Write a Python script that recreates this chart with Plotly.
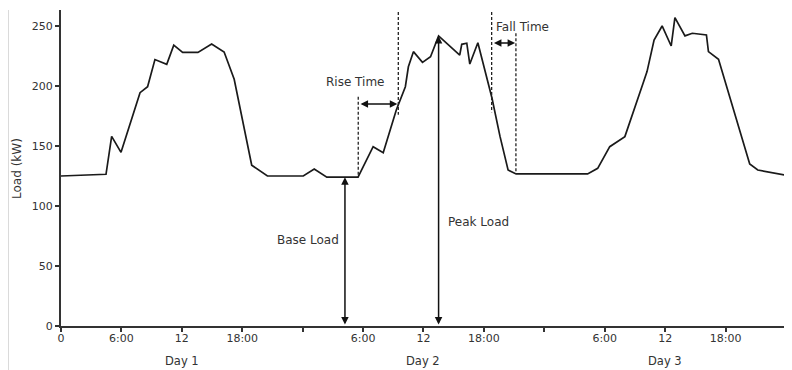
import plotly.graph_objects as go

# ---- data ----
hours = [0, 4.47, 5.03, 5.96, 7.85, 8.6, 9.33, 10.5, 11.2, 12.08, 13.6, 14.96, 16.2, 17.2, 18.94, 20.5,
         24.06, 25.15, 26.4, 29.5, 31.0, 32.0, 33.3, 34.2, 34.5, 35.0, 35.9, 36.7, 37.5, 39.6, 39.8, 40.3,
         40.6, 41.4, 42.8, 43.6, 44.4, 45.2, 52.3, 53.3, 54.5, 56.0, 57.8, 58.2, 58.9, 59.7, 60.6, 60.97,
         61.97, 62.7, 64.1, 64.3, 65.3, 68.4, 69.2, 72.4]
load_kw = [125, 126.4, 158, 144.7, 194.4, 199.4, 222, 218, 234, 228, 228, 235, 228.3, 205.6, 134, 125,
           125, 130.8, 124, 124, 149.4, 144.4, 180, 199.4, 216, 228.6, 219.7, 224.4, 241.7, 225.8, 234.7, 235.6,
           218.3, 236, 190, 158, 130, 126.7, 126.7, 131.4, 149.4, 157.8, 202, 212, 238.3, 250, 233.3, 257,
           241.7, 243.9, 242.5, 228.6, 222.2, 135, 130, 125]

tick_vals = [0, 6, 12, 18, 24, 30, 36, 42, 48, 54, 60, 66]
tick_text = ["0", "6:00", "12", "18:00", "", "6:00", "12", "18:00", "", "6:00", "12", "18:00"]
day_pos = [12, 36, 60]
day_labels = ["Day 1", "Day 2", "Day 3"]
y_ticks = [0, 50, 100, 150, 200, 250]

# annotation geometry (data coordinates)
base_x, base_y = 28.2, 124
peak_x, peak_y = 37.5, 241.7
rise_dash = [([29.52, 29.52], [191, 124]), ([33.5, 33.5], [261.7, 176])]
rise_arrow = (29.6, 33.4, 185)
fall_dash = [([42.77, 42.77], [261.7, 178]), ([45.18, 45.18], [244, 126.7])]
fall_arrow = (42.85, 45.1, 235.8)

FONT = "DejaVu Sans"
TXT = "#333333"

fig = go.Figure()
fig.add_trace(go.Scatter(x=hours, y=load_kw, mode="lines",
                         line=dict(color="#1a1a1a", width=1.7), showlegend=False, hoverinfo="skip"))
for xs, ys in rise_dash + fall_dash:
    fig.add_trace(go.Scatter(x=xs, y=ys, mode="lines",
                             line=dict(color="#222222", width=1.3, dash="3px,2px"),
                             showlegend=False, hoverinfo="skip"))

def darrow(x, y, ax, ay):
    fig.add_annotation(x=x, y=y, ax=ax, ay=ay, xref="x", yref="y", axref="x", ayref="y",
                       showarrow=True, arrowhead=2, startarrowhead=2, arrowside="end+start",
                       arrowsize=1, arrowwidth=1.5, arrowcolor="#111111", text="")

darrow(base_x, base_y, base_x, 0)
darrow(peak_x, peak_y, peak_x, 0)
darrow(rise_arrow[1], rise_arrow[2], rise_arrow[0], rise_arrow[2])
darrow(fall_arrow[1], fall_arrow[2], fall_arrow[0], fall_arrow[2])

def label(x, y, t, xanchor="center"):
    fig.add_annotation(x=x, y=y, xref="x", yref="y", text=t, showarrow=False,
                       xanchor=xanchor, yanchor="middle", font=dict(family=FONT, size=12, color=TXT))

label(24.5, 71.7, "Base Load")
label(38.2, 86.7, "Peak Load", xanchor="left")
label(29.2, 203, "Rise Time")
label(43.0, 249, "Fall Time", xanchor="left")

for p, t in zip(day_pos, day_labels):
    fig.add_annotation(x=p, y=0, xref="x", yref="y", text=t, showarrow=False, yshift=-35,
                       font=dict(family=FONT, size=11.5, color=TXT))

fig.add_annotation(x=-0.0604, y=0.5, xref="paper", yref="paper", text="Load (kW)", textangle=-90,
                   xanchor="center", yanchor="middle",
                   showarrow=False, font=dict(family=FONT, size=12, color=TXT))

fig.add_shape(type="line", xref="paper", yref="paper", x0=-0.0723, x1=-0.0723, y0=1.0, y1=-0.14,
              line=dict(color="#d0d0d0", width=1))

fig.update_xaxes(range=[0, 72.4], tickvals=tick_vals, ticktext=tick_text, showline=True,
                 linecolor="#333333", linewidth=2, ticks="outside", ticklen=4, tickwidth=1.5,
                 tickcolor="#333333", showgrid=False, zeroline=False, ticklabelstandoff=-3,
                 tickfont=dict(family=FONT, size=11, color=TXT))
fig.update_yaxes(range=[0, 263.3], tickvals=y_ticks, showline=True, linecolor="#333333", linewidth=2,
                 ticks="outside", ticklen=4, tickwidth=1.5, tickcolor="#333333", showgrid=False,
                 zeroline=False, tickfont=dict(family=FONT, size=11, color=TXT))

fig.update_layout(width=784, height=362, margin=dict(l=53, r=2, t=2, b=44),
                  plot_bgcolor="white", paper_bgcolor="white", font=dict(family=FONT))

fig.write_html("out.html")
